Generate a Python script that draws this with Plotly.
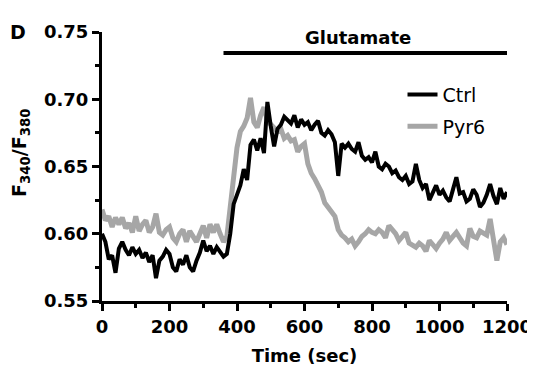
import plotly.graph_objects as go

time_s = list(range(0, 1201, 10))

ctrl = [0.600, 0.594, 0.581, 0.584, 0.571, 0.589, 0.594, 0.588, 0.584, 0.590,
        0.585, 0.588, 0.582, 0.586, 0.579, 0.584, 0.567, 0.580, 0.583, 0.588,
        0.585, 0.575, 0.572, 0.581, 0.577, 0.584, 0.575, 0.572, 0.580, 0.586,
        0.595, 0.587, 0.591, 0.585, 0.590, 0.587, 0.583, 0.585, 0.600, 0.622,
        0.630, 0.636, 0.648, 0.640, 0.666, 0.670, 0.662, 0.671, 0.660, 0.698,
        0.680, 0.665, 0.678, 0.681, 0.687, 0.684, 0.682, 0.688, 0.679, 0.685,
        0.681, 0.683, 0.677, 0.681, 0.684, 0.675, 0.673, 0.677, 0.674, 0.668,
        0.643, 0.667, 0.664, 0.667, 0.663, 0.661, 0.668, 0.658, 0.655, 0.657,
        0.653, 0.661, 0.650, 0.648, 0.652, 0.650, 0.645, 0.647, 0.642, 0.640,
        0.643, 0.637, 0.639, 0.652, 0.640, 0.634, 0.637, 0.625, 0.631, 0.636,
        0.629, 0.632, 0.627, 0.624, 0.633, 0.642, 0.630, 0.631, 0.624, 0.626,
        0.633, 0.629, 0.620, 0.623, 0.629, 0.637, 0.628, 0.622, 0.634, 0.626,
        0.631]

pyr6 = [0.618, 0.610, 0.613, 0.605, 0.612, 0.607, 0.612, 0.604, 0.608, 0.601,
        0.613, 0.602, 0.607, 0.610, 0.601, 0.605, 0.615, 0.601, 0.599, 0.603,
        0.605, 0.597, 0.594, 0.600, 0.603, 0.594, 0.602, 0.597, 0.594, 0.600,
        0.606, 0.597, 0.607, 0.601, 0.607, 0.600, 0.594, 0.598, 0.618, 0.645,
        0.664, 0.676, 0.680, 0.686, 0.701, 0.683, 0.679, 0.688, 0.694, 0.684,
        0.681, 0.679, 0.676, 0.678, 0.671, 0.673, 0.669, 0.670, 0.661, 0.665,
        0.667, 0.652, 0.645, 0.641, 0.636, 0.631, 0.623, 0.620, 0.616, 0.613,
        0.603, 0.599, 0.597, 0.594, 0.596, 0.591, 0.594, 0.598, 0.600, 0.603,
        0.601, 0.600, 0.603, 0.601, 0.597, 0.606, 0.603, 0.600, 0.595, 0.598,
        0.601, 0.593, 0.591, 0.590, 0.593, 0.591, 0.587, 0.595, 0.592, 0.589,
        0.593, 0.596, 0.601, 0.595, 0.598, 0.601, 0.597, 0.593, 0.591, 0.604,
        0.598, 0.597, 0.602, 0.600, 0.599, 0.611, 0.596, 0.580, 0.594, 0.597,
        0.592]

x_ticks = [0, 200, 400, 600, 800, 1000, 1200]
y_ticks = [0.55, 0.60, 0.65, 0.70, 0.75]
y_tick_labels = ["0.55", "0.60", "0.65", "0.70", "0.75"]
glutamate_span = [360, 1205]

FONT = "DejaVu Sans"

fig = go.Figure()
fig.add_trace(go.Scatter(x=time_s, y=pyr6, mode="lines", name="Pyr6",
                         line=dict(color="#a6a6a6", width=5),
                         legendgroup="b", legendrank=2))
fig.add_trace(go.Scatter(x=time_s, y=ctrl, mode="lines", name="Ctrl",
                         line=dict(color="black", width=4),
                         legendgroup="a", legendrank=1))

fig.add_shape(type="line", xref="x", yref="paper",
              x0=glutamate_span[0], x1=glutamate_span[1], y0=0.922, y1=0.922,
              line=dict(color="black", width=4))
fig.add_annotation(text="Glutamate", xref="x", yref="paper",
                   x=758, y=0.98,
                   xanchor="center", yanchor="middle", showarrow=False,
                   font=dict(family=FONT, size=18, color="black", weight="bold"))
fig.add_annotation(text="D", xref="paper", yref="paper", x=-0.207, y=1.0,
                   xanchor="center", yanchor="middle", showarrow=False,
                   font=dict(family=FONT, size=19, color="black", weight="bold"))
fig.add_annotation(text="F<sub>340</sub>/F<sub>380</sub>", xref="paper", yref="paper",
                   x=-0.2025, y=0.55, textangle=-90,
                   xanchor="center", yanchor="middle", showarrow=False,
                   font=dict(family=FONT, size=19, color="black", weight="bold"))

# page body has an 8px margin, so the figure is drawn 8px smaller
fig.update_layout(
    width=527, height=362,
    margin=dict(l=94, r=28, t=24, b=69),
    paper_bgcolor="white", plot_bgcolor="white",
    showlegend=True,
    legend=dict(x=0.742, y=0.838, xanchor="left", yanchor="top",
                bgcolor="rgba(0,0,0,0)", traceorder="grouped",
                tracegroupgap=4,
                font=dict(family=FONT, size=19, color="black")),
    font=dict(family=FONT, color="black"),
)
fig.update_xaxes(range=[0, 1200], tickvals=x_ticks, automargin=False,
                 showline=True, linecolor="black", linewidth=3,
                 ticks="outside", ticklen=7, tickwidth=3, tickcolor="black",
                 minor=dict(dtick=100, ticks="outside", ticklen=4, tickwidth=3, tickcolor="black"),
                 showgrid=False, zeroline=False,
                 tickfont=dict(family=FONT, size=18, color="black", weight="bold"),
                 title=dict(text="Time (sec)", standoff=14,
                            font=dict(family=FONT, size=18, color="black", weight="bold")))
fig.update_yaxes(range=[0.55, 0.75], tickvals=y_ticks, ticktext=y_tick_labels, automargin=False,
                 showline=True, linecolor="black", linewidth=3,
                 ticks="outside", ticklen=7, tickwidth=3, tickcolor="black",
                 minor=dict(dtick=0.025, ticks="outside", ticklen=4, tickwidth=3, tickcolor="black"),
                 showgrid=False, zeroline=False,
                 tickfont=dict(family=FONT, size=18, color="black", weight="bold"))

fig.write_html("out.html")
